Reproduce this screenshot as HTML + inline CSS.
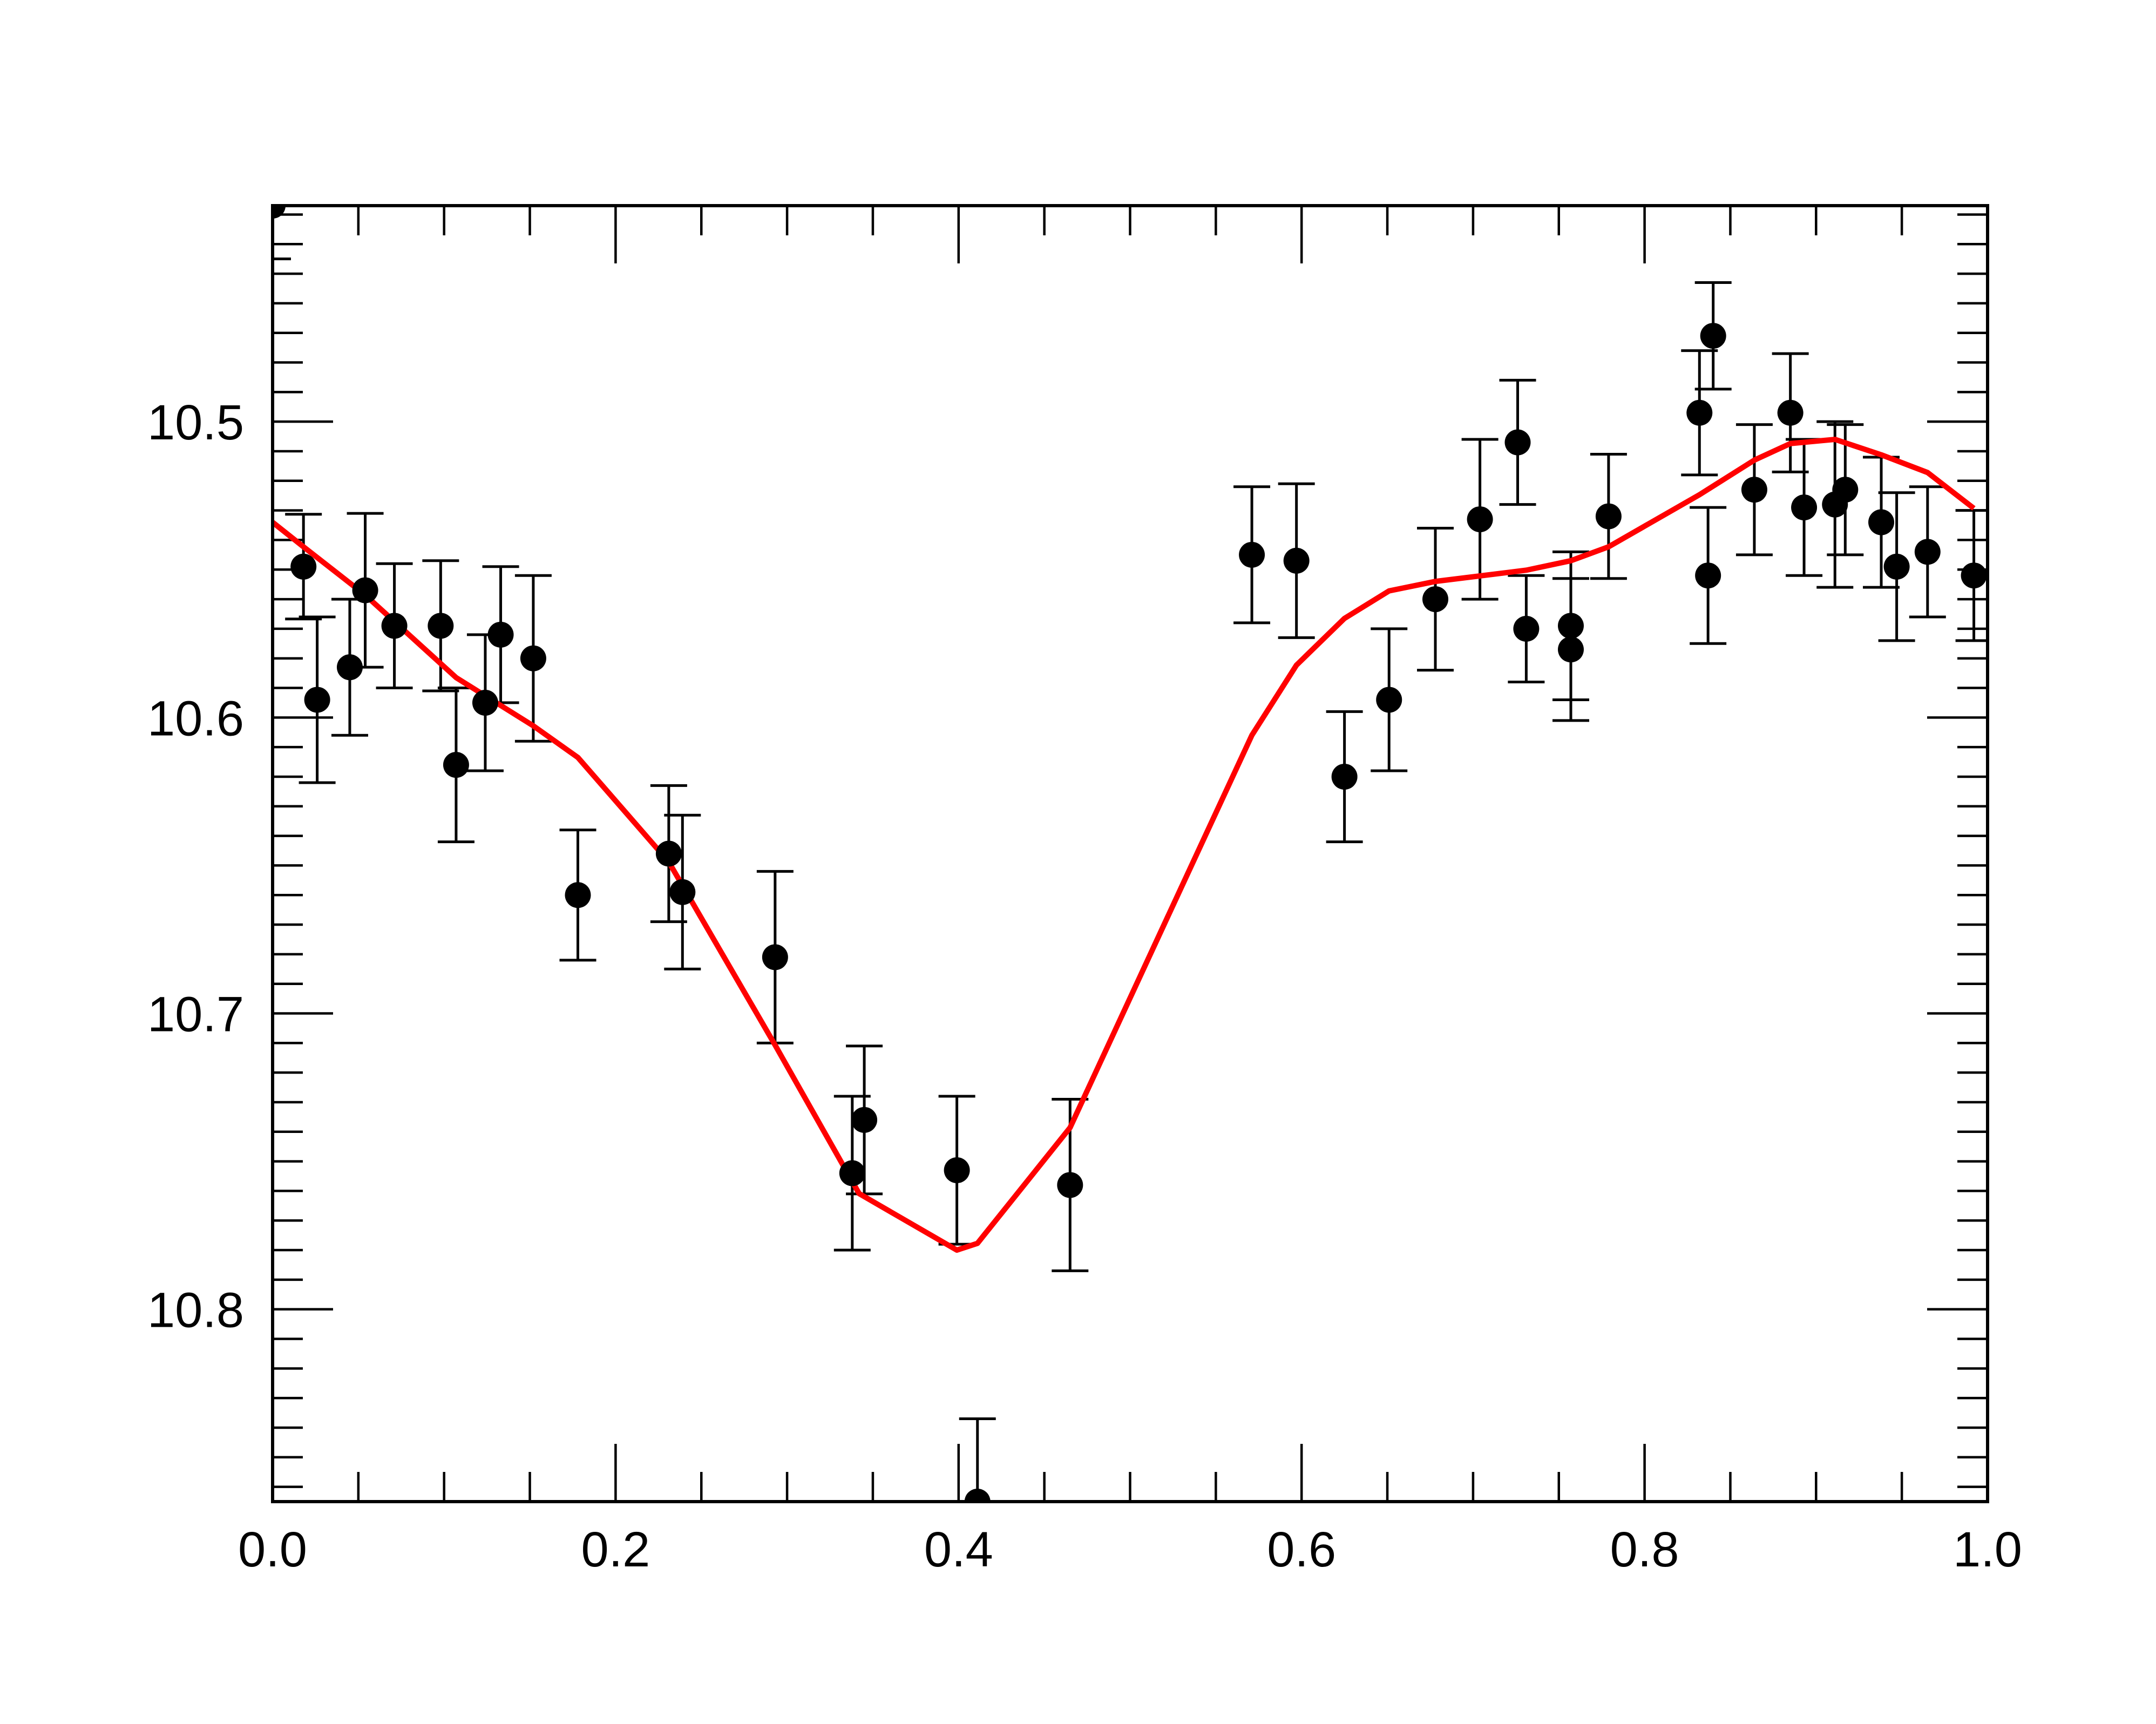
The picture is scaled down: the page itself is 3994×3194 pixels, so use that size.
<!DOCTYPE html>
<html><head><meta charset="utf-8"><style>html,body{margin:0;padding:0;background:#fff}svg{display:block}</style></head>
<body>
<svg id="chart" width="3994" height="3194" viewBox="0 0 3994 3194" xmlns="http://www.w3.org/2000/svg" font-family="'Liberation Sans', sans-serif">
<rect width="3994" height="3194" fill="#fff"/>
<g id="ticks"></g>
<g id="labels"></g>
<g id="errs"></g>
<g id="fit"></g>
<g id="pts"></g>
<rect id="frame" fill="none" stroke="#000" stroke-width="6"/>
</svg>
<script>
const xVals=[0,0.018,0.026,0.045,0.054,0.071,0.098,0.107,0.124,0.133,0.152,0.178,0.231,0.239,0.293,0.338,0.345,0.399,0.411,0.465,0.571,0.597,0.625,0.651,0.678,0.704,0.726,0.731,0.757,0.757,0.779,0.832,0.837,0.840,0.864,0.885,0.893,0.911,0.917,0.938,0.947,0.965,0.992];
const yVals=[10.427,10.549,10.594,10.583,10.557,10.569,10.569,10.616,10.595,10.572,10.580,10.660,10.646,10.659,10.681,10.754,10.736,10.753,10.865,10.758,10.545,10.547,10.620,10.594,10.560,10.533,10.507,10.570,10.569,10.577,10.532,10.497,10.552,10.471,10.523,10.497,10.529,10.528,10.523,10.534,10.549,10.544,10.552];
const yErrs=[0.018,0.0177,0.028,0.023,0.026,0.021,0.022,0.026,0.023,0.023,0.028,0.022,0.023,0.026,0.029,0.026,0.025,0.025,0.028,0.029,0.023,0.026,0.022,0.024,0.024,0.027,0.021,0.018,0.025,0.024,0.021,0.021,0.023,0.018,0.022,0.020,0.023,0.028,0.022,0.022,0.025,0.022,0.022];
const fitX=[0,0.018,0.054,0.107,0.152,0.178,0.231,0.293,0.342,0.399,0.411,0.465,0.517,0.571,0.597,0.625,0.651,0.678,0.731,0.757,0.779,0.832,0.864,0.885,0.911,0.938,0.965,0.992];
const fitY=[10.534,10.5423,10.5586,10.5865,10.6028,10.6135,10.6488,10.7107,10.7609,10.780,10.7777,10.7386,10.6735,10.606,10.5823,10.5665,10.5572,10.554,10.5502,10.547,10.5423,10.5247,10.513,10.5074,10.506,10.5112,10.5172,10.5293];
const xTickLabels=["0.0","0.2","0.4","0.6","0.8","1.0"];
const yTickLabels=["10.5","10.6","10.7","10.8"];

const L=505,R=3682,T=381,B=2782,X0=0,X1=1,Y0=10.427,Y1=10.865;
const sx=v=>L+(v-X0)/(X1-X0)*(R-L);
const sy=v=>T+(v-Y0)/(Y1-Y0)*(B-T);
const NS='http://www.w3.org/2000/svg';
function mk(tag,parent,attrs){const e=document.createElementNS(NS,tag);for(const k in attrs)e.setAttribute(k,attrs[k]);parent.appendChild(e);return e;}
const fr=document.getElementById('frame');
fr.setAttribute('x',L);fr.setAttribute('y',T);fr.setAttribute('width',R-L);fr.setAttribute('height',B-T);

const tg=document.getElementById('ticks');
for(let i=0;i<=20;i++){const v=i*0.05;const x=sx(v);const major=i%4===0;const len=major?107:55;
 const a=mk('line',tg,{x1:x,x2:x,y1:B,y2:B-len,stroke:'#000','stroke-width':4.5});
 
 const b=mk('line',tg,{x1:x,x2:x,y1:T,y2:T+len,stroke:'#000','stroke-width':4.5});
 }
for(let i=43;i<=86;i++){const v=10+i/100;const y=sy(v);const major=i%10===0;const len=major?112:56;
 const a=mk('line',tg,{x1:L,x2:L+len,y1:y,y2:y,stroke:'#000','stroke-width':4.5});
 
 const b=mk('line',tg,{x1:R,x2:R-len,y1:y,y2:y,stroke:'#000','stroke-width':4.5});
 }

const lg=document.getElementById('labels');
xTickLabels.forEach((s,i)=>{const t=mk('text',lg,{x:sx(i*0.2),y:2902,'font-size':92,'text-anchor':'middle',fill:'#000'});t.textContent=s;
 });
yTickLabels.forEach((s,i)=>{const t=mk('text',lg,{x:452,y:sy(10.5+i*0.1)+33,'font-size':92,'text-anchor':'end',fill:'#000'});t.textContent=s;
 });

const eg=document.getElementById('errs');const pg=document.getElementById('pts');
const cp=document.createElementNS(NS,'clipPath');cp.setAttribute('id','clip');
mk('rect',cp,{x:L,y:T,width:R-L,height:B-T});document.getElementById('chart').appendChild(cp);
eg.setAttribute('clip-path','url(#clip)');pg.setAttribute('clip-path','url(#clip)');
xVals.forEach((xv,i)=>{const x=sx(xv),y=sy(yVals[i]);const y1=sy(yVals[i]-yErrs[i]),y2=sy(yVals[i]+yErrs[i]);
 const g=mk('g',eg,{stroke:'#000','stroke-width':5,fill:'none'});
 
 mk('line',g,{x1:x,x2:x,y1:y1,y2:y2});
 mk('line',g,{x1:x-34,x2:x+34,y1:y1,y2:y1});
 mk('line',g,{x1:x-34,x2:x+34,y1:y2,y2:y2});
 const c=mk('circle',pg,{cx:x,cy:y,r:24,fill:'#000'});
 });

const fg=document.getElementById('fit');
const p=mk('polyline',fg,{points:fitX.map((v,i)=>sx(v)+','+sy(fitY[i])).join(' '),fill:'none',stroke:'#ff0000','stroke-width':10,'stroke-linejoin':'round'});

</script>
</body></html>
